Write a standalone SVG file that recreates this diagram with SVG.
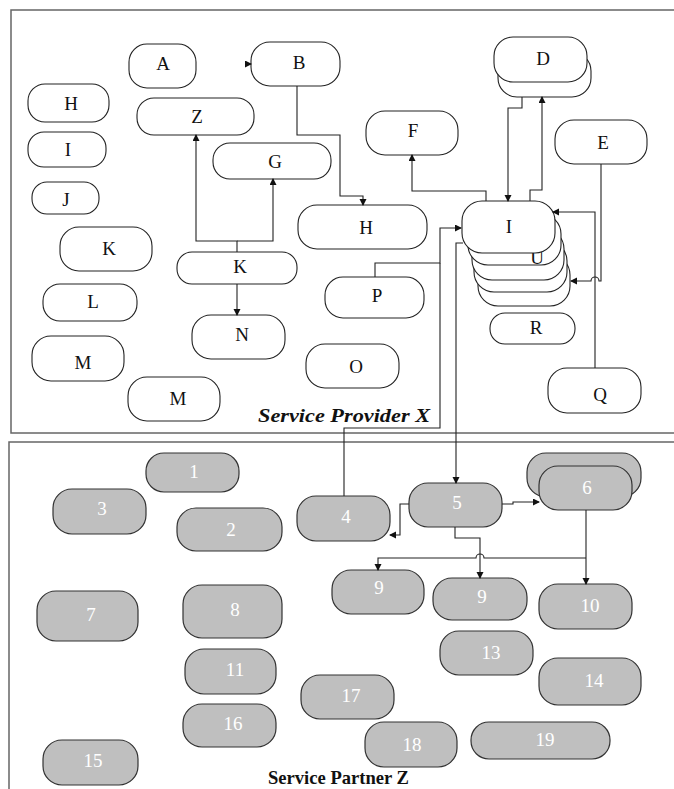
<svg xmlns="http://www.w3.org/2000/svg" width="674" height="789" viewBox="0 0 674 789">
<defs>
<style>
.w rect{fill:#fff;stroke:#222;stroke-width:1.1}
.g rect{fill:#bfbfbf;stroke:#333;stroke-width:1.2}
.w text{font-family:"Liberation Serif","DejaVu Serif",serif;font-size:19px;fill:#111;text-anchor:middle}
.g text{font-family:"Liberation Serif","DejaVu Serif",serif;font-size:19px;fill:#fff;text-anchor:middle}
.frame{fill:none;stroke:#666;stroke-width:1.5}
.c path{fill:none;stroke:#222;stroke-width:1.1}
.lbl{font-family:"Liberation Serif","DejaVu Serif",serif;font-size:19px;font-weight:bold;fill:#111}
</style>
<marker id="ar" markerWidth="8" markerHeight="8" refX="6" refY="3.5" orient="auto" markerUnits="userSpaceOnUse">
<path d="M0,0 L7,3.5 L0,7 Z" fill="#111"/>
</marker>
</defs>
<rect class="frame" x="11" y="10" width="680" height="423"/>
<rect class="frame" x="9" y="442" width="680" height="360"/>

<g class="w">
<g id="nA"><rect x="129" y="44" width="67" height="44" rx="18"/><text x="163" y="70">A</text></g>
<g id="nB"><rect x="251" y="42" width="89" height="44" rx="19"/><text x="299" y="69">B</text></g>
<g id="nH1"><rect x="28" y="84" width="81" height="38" rx="17"/><text x="71" y="110">H</text></g>
<g id="nZ"><rect x="137" y="98" width="117" height="37" rx="17"/><text x="197" y="123">Z</text></g>
<g id="nI1"><rect x="28" y="132" width="78" height="35" rx="16"/><text x="68" y="156">I</text></g>
<g id="nG"><rect x="213" y="143" width="118" height="36" rx="17"/><text x="275" y="168">G</text></g>
<g id="nJ"><rect x="32" y="182" width="67" height="32" rx="15"/><text x="66" y="206">J</text></g>
<g id="nK1"><rect x="60" y="227" width="92" height="44" rx="19"/><text x="109" y="255">K</text></g>
<g id="nL"><rect x="43" y="284" width="94" height="37" rx="17"/><text x="93" y="308">L</text></g>
<g id="nM1"><rect x="32" y="336" width="92" height="45" rx="19"/><text x="83" y="369">M</text></g>
<g id="nM2"><rect x="128" y="377" width="92" height="44" rx="19"/><text x="178" y="405">M</text></g>
<g id="nK2"><rect x="177" y="252" width="120" height="32" rx="15"/><text x="240" y="273">K</text></g>
<g id="nN"><rect x="192" y="315" width="93" height="44" rx="19"/><text x="242" y="341">N</text></g>
<g id="nH2"><rect x="298" y="205" width="129" height="44" rx="19"/><text x="366" y="234">H</text></g>
<g id="nP"><rect x="325" y="277" width="99" height="41" rx="18"/><text x="377" y="302">P</text></g>
<g id="nO"><rect x="306" y="344" width="93" height="44" rx="19"/><text x="356" y="373">O</text></g>
<g id="nF"><rect x="366" y="111" width="92" height="44" rx="19"/><text x="413" y="137">F</text></g>
<g id="nD"><rect x="498" y="52" width="93" height="45" rx="19"/><rect x="494" y="37" width="93" height="45" rx="19"/><text x="543" y="65">D</text></g>
<g id="nE"><rect x="555" y="120" width="92" height="44" rx="19"/><text x="603" y="149">E</text></g>
<g id="nIstack">
<rect x="478" y="255" width="92" height="51" rx="20"/>
<rect x="474" y="241" width="93" height="51" rx="20"/>
<rect x="472" y="229" width="92" height="51" rx="20"/>
<rect x="468" y="214" width="93" height="51" rx="20"/>
<text x="537" y="264">U</text>
<rect x="462" y="201" width="93" height="52" rx="20"/>
<text x="509" y="233">I</text>
</g>
<g id="nR"><rect x="490" y="313" width="85" height="31" rx="15"/><text x="536" y="334">R</text></g>
<g id="nQ"><rect x="548" y="368" width="93" height="45" rx="19"/><text x="600" y="401">Q</text></g>
</g>

<g class="g">
<g id="n1"><rect x="146" y="453" width="93" height="39" rx="18"/><text x="194" y="478">1</text></g>
<g id="n3"><rect x="53" y="489" width="93" height="45" rx="19"/><text x="102" y="515">3</text></g>
<g id="n2"><rect x="177" y="508" width="105" height="43" rx="19"/><text x="231" y="536">2</text></g>
<g id="n7"><rect x="37" y="591" width="101" height="50" rx="19"/><text x="91" y="621">7</text></g>
<g id="n8"><rect x="183" y="585" width="99" height="53" rx="19"/><text x="235" y="616">8</text></g>
<g id="n11"><rect x="185" y="649" width="91" height="45" rx="19"/><text x="235" y="676">11</text></g>
<g id="n16"><rect x="183" y="704" width="93" height="43" rx="19"/><text x="233" y="730">16</text></g>
<g id="n15"><rect x="43" y="740" width="95" height="45" rx="19"/><text x="93" y="767">15</text></g>
<g id="n4"><rect x="297" y="496" width="93" height="45" rx="19"/><text x="346" y="523">4</text></g>
<g id="n5"><rect x="409" y="483" width="93" height="44" rx="19"/><text x="457" y="509">5</text></g>
<g id="n6"><rect x="527" y="453" width="114" height="44" rx="19"/><rect x="539" y="466" width="93" height="44" rx="19"/><text x="587" y="494">6</text></g>
<g id="n9a"><rect x="332" y="570" width="92" height="44" rx="19"/><text x="379" y="594">9</text></g>
<g id="n9b"><rect x="433" y="578" width="94" height="42" rx="19"/><text x="482" y="603">9</text></g>
<g id="n10"><rect x="539" y="584" width="93" height="45" rx="19"/><text x="590" y="612">10</text></g>
<g id="n13"><rect x="440" y="631" width="93" height="44" rx="19"/><text x="491" y="659">13</text></g>
<g id="n14"><rect x="539" y="658" width="102" height="47" rx="19"/><text x="594" y="687">14</text></g>
<g id="n17"><rect x="301" y="675" width="93" height="44" rx="19"/><text x="351" y="702">17</text></g>
<g id="n18"><rect x="365" y="722" width="92" height="45" rx="19"/><text x="412" y="751">18</text></g>
<g id="n19"><rect x="471" y="722" width="139" height="37" rx="18"/><text x="545" y="746">19</text></g>
</g>

<g class="c">
<path d="M246,64 H251" marker-end="url(#ar)"/>
<path d="M297,86 V135 H340 V196 H363 V205" marker-end="url(#ar)"/>
<path d="M237,252 V241 H196 V135" marker-end="url(#ar)"/>
<path d="M237,241 H273 V179" marker-end="url(#ar)"/>
<path d="M237,284 V315" marker-end="url(#ar)"/>
<path d="M486,201 V191 H412 V155" marker-end="url(#ar)"/>
<path d="M522,97 V108 H508 V201" marker-end="url(#ar)"/>
<path d="M530,201 V190 H542 V97" marker-end="url(#ar)"/>
<path d="M601,164 V281 H599 A4,4 0 0 0 591,281 H571" marker-end="url(#ar)"/>
<path d="M595,368 V212 H553" marker-end="url(#ar)"/>
<path d="M375,277 V263 H440 V228 H461" marker-end="url(#ar)"/>
<path d="M344,496 V428 H440 V263"/>
<path d="M463,243 H456 V483" marker-end="url(#ar)"/>
<path d="M409,504 H400 V535 H390" marker-end="url(#ar)"/>
<path d="M502,504 H513 V502 H539" marker-end="url(#ar)"/>
<path d="M455,527 V538 H480 V578" marker-end="url(#ar)"/>
<path d="M586,510 V584" marker-end="url(#ar)"/>
<path d="M586,558 H484 A4,4 0 0 0 476,558 H378 V570" marker-end="url(#ar)"/>
</g>

<text class="lbl" x="258" y="422" font-style="italic" textLength="172" lengthAdjust="spacingAndGlyphs">Service Provider X</text>
<text class="lbl" x="268" y="784" textLength="141" lengthAdjust="spacingAndGlyphs">Service Partner Z</text>
</svg>
